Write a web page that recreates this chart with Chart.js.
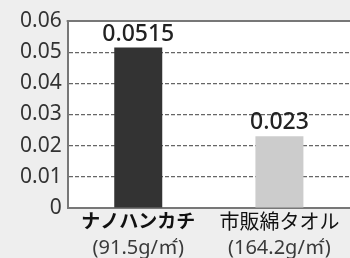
<!DOCTYPE html>
<html>
<head>
<meta charset="utf-8">
<script src="https://cdn.jsdelivr.net/npm/chart.js@4"></script>
<style>
  html, body { margin: 0; padding: 0; background: #eeeeee; }
  #wrap { width: 350px; height: 258px; }
</style>
</head>
<body>
<div id="wrap"><canvas id="chart"></canvas></div>
<script>
const categories = ["ナノハンカチ", "市販綿タオル"];
const weights = ["(91.5g/㎡)", "(164.2g/㎡)"];
const values = [0.0515, 0.023];
const valueLabels = ["0.0515", "0.023"];
const barColors = ["#333333", "#cccccc"];

const FONT = "'Noto Sans', 'Noto Sans CJK JP', sans-serif";

// grey page, white plot area, solid top edge
const backdrop = {
    id: "backdrop",
    beforeDraw(chart) {
        const { ctx, chartArea: a, width, height } = chart;
        ctx.save();
        ctx.fillStyle = "#eeeeee";
        ctx.fillRect(0, 0, width, height);
        ctx.fillStyle = "#ffffff";
        ctx.fillRect(a.left, a.top, a.right - a.left, a.bottom - a.top);
        ctx.restore();
    },
    afterDraw(chart) {
        const { ctx, chartArea: a } = chart;
        ctx.save();
        ctx.strokeStyle = "#777777";
        ctx.lineWidth = 2;
        ctx.beginPath();
        ctx.moveTo(a.left - 1, a.top);
        ctx.lineTo(a.right, a.top);
        ctx.stroke();
        ctx.restore();
    }
};

// value text above each bar
const barValues = {
    id: "barValues",
    afterDatasetsDraw(chart) {
        const { ctx } = chart;
        const meta = chart.getDatasetMeta(0);
        ctx.save();
        ctx.font = "500 23px " + FONT;
        ctx.fillStyle = "#222222";
        ctx.textAlign = "center";
        ctx.textBaseline = "bottom";
        meta.data.forEach((bar, i) => {
            ctx.fillText(valueLabels[i], bar.x, bar.y - 2);
        });
        ctx.restore();
    }
};

new Chart(document.getElementById("chart"), {
    type: "bar",
    data: {
        labels: categories,
        datasets: [{
            data: values,
            backgroundColor: barColors,
            barPercentage: 0.34,
            categoryPercentage: 1
        }]
    },
    options: {
        responsive: true,
        maintainAspectRatio: false,
        animation: false,
        layout: { padding: { top: 21, right: 0, left: 14, bottom: 0 } },
        plugins: { legend: { display: false }, tooltip: { enabled: false } },
        scales: {
            x: {
                offset: true,
                grid: { display: false, drawTicks: false },
                border: { color: "#777777", width: 2 },
                ticks: {
                    padding: 5,
                    color: "#111111",
                    font: ctx => ctx.index === 0
                        ? { family: FONT, size: 19, weight: "bold", lineHeight: 1.0 }
                        : { family: FONT, size: 20, weight: "normal", lineHeight: 1.0 }
                }
            },
            x2: {
                type: "category",
                position: "bottom",
                labels: weights,
                offset: true,
                grid: { display: false, drawTicks: false },
                border: { display: false },
                ticks: { padding: 0, color: "#3a3a3a", font: { family: FONT, size: 20, lineHeight: 1.0 } }
            },
            y: {
                min: 0,
                max: 0.06,
                border: { color: "#777777", width: 2, dash: [4, 2] },
                grid: {
                    drawTicks: false,
                    color: ctx => (ctx.tick && (ctx.tick.value === 0 || ctx.tick.value >= 0.06)) ? "rgba(0,0,0,0)" : "#666666",
                    lineWidth: 1.2
                },
                ticks: {
                    stepSize: 0.01,
                    padding: 6,
                    color: "#333333",
                    font: { family: FONT, size: 21 },
                    callback: v => v === 0 ? "0" : v.toFixed(2)
                }
            }
        }
    },
    plugins: [backdrop, barValues]
});
</script>
</body>
</html>
